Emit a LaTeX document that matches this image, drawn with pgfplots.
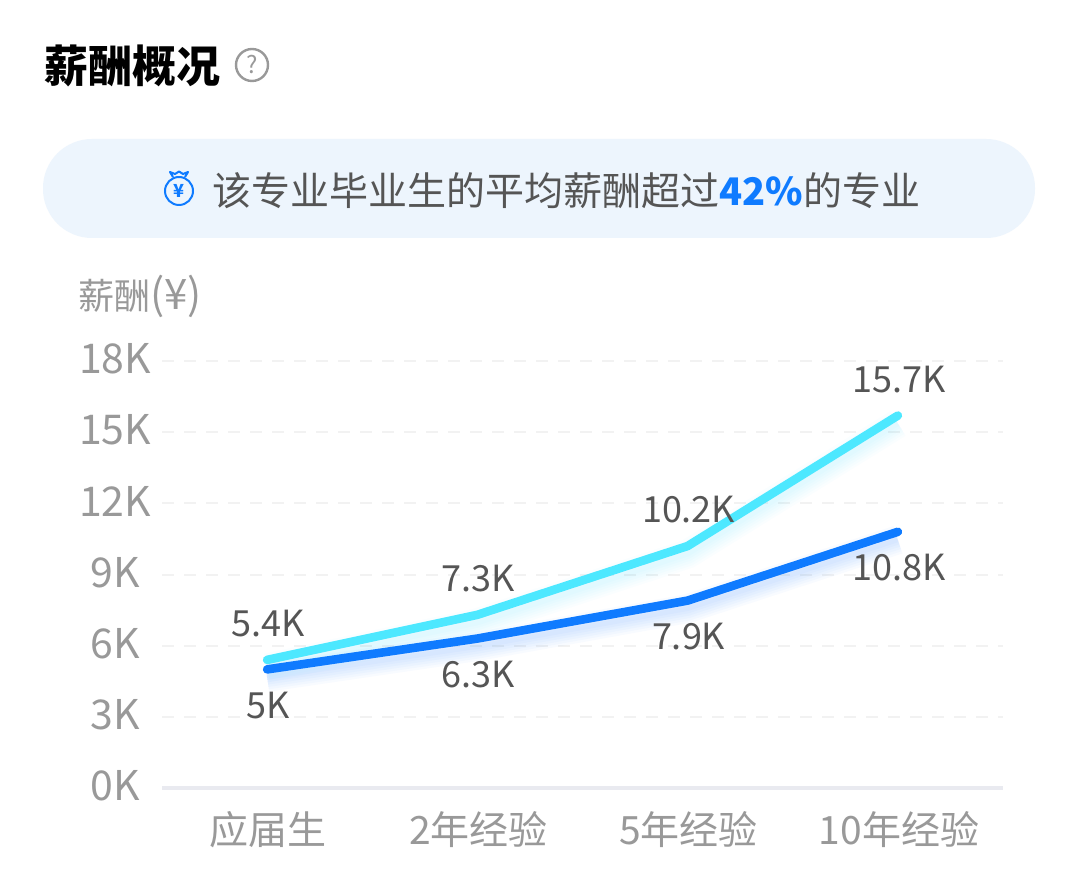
\documentclass[border=0pt]{standalone}
\usepackage{fontspec}
\setmainfont{Noto Sans CJK SC}
\usepackage{pgfplots}
\usepackage{pgfplotstable}
\pgfplotsset{compat=1.18}

\definecolor{cyanline}{HTML}{4DE8FF}
\definecolor{blueline}{HTML}{0F7BFF}
\definecolor{banner}{HTML}{EDF5FD}
\definecolor{ticktext}{HTML}{999999}
\definecolor{datatext}{HTML}{555555}
\definecolor{gridgray}{HTML}{F2F2F2}
\definecolor{baseline}{HTML}{E9EAF0}

% salary in thousands
\pgfplotstableread{
x y label
0 5.4 5.4K
1 7.3 7.3K
2 10.2 10.2K
3 15.7 15.7K
}\avgtable
\pgfplotstableread{
x y label
0 5.0 5K
1 6.3 6.3K
2 7.9 7.9K
3 10.8 10.8K
}\majortable

% soft shadow under a line
\newcommand{\glow}[2]{%
  \pgfplotsinvokeforeach{1,2,3,4,5,6}{%
    \addplot[#2, opacity=0.028, line width=##1*2.4pt, yshift=-4pt, forget plot] table[x=x,y=y] {#1};
  }%
}
\newcommand{\fs}[1]{\fontsize{#1}{#1}\selectfont}

\begin{document}
\begin{tikzpicture}[x=0.5pt,y=-0.5pt]
  \path[fill=white] (0,0) rectangle (1079,886);

  % header
  \node[anchor=west, inner sep=0pt, text=black] at (44,66) {\fs{22}\bfseries 薪酬概况};
  \draw[color=ticktext, line width=1.2pt] (252,65) circle (16);
  \node[inner sep=0pt, text=ticktext] at (252,65) {\fs{12}?};

  % banner
  \fill[banner, rounded corners=24.5pt] (43,139) rectangle (1035,238);
  \draw[blueline, line width=1pt] (179,191) circle (14);
  \draw[blueline, line width=1pt, line join=round] (173,177) -- (170,172) -- (175,174) -- (179,171.5) -- (183,174) -- (188,172) -- (185,177);
  \node[inner sep=0pt, text=blueline] at (179,191) {\fs{9}\bfseries ¥};
  \node[anchor=west, inner sep=0pt, text=datatext] at (212,191)
    {\fs{19.5}该专业毕业生的平均薪酬超过\textcolor{blueline}{\fs{19}\bfseries 42\%}的专业};

  % axis title
  \node[anchor=west, inner sep=0pt, text=ticktext] at (78,296) {\fs{18}薪酬\fs{21}(¥)};

  \begin{axis}[
      at={(81pt,-394pt)}, anchor=south west,
      scale only axis,
      width=420.5pt, height=213.5pt,
      xmin=-0.5, xmax=3.5,
      ymin=0, ymax=18,
      clip=false,
      axis x line*=bottom,
      axis y line*=left,
      x axis line style={draw=baseline, line width=2pt, -},
      y axis line style={draw=none},
      major tick length=0pt,
      xtick={0,1,2,3},
      xticklabels={应届生,2年经验,5年经验,10年经验},
      ytick={0,3,6,9,12,15,18},
      yticklabels={0K,3K,6K,9K,12K,15K,18K},
      x tick label style={anchor=center, xshift=0.5pt, yshift=-21pt, text=ticktext, font=\fs{19.5}},
      y tick label style={anchor=center, xshift=-23.5pt, yshift=1pt, text=ticktext, font=\fs{20.5}},
      ymajorgrids,
      grid style={draw=gridgray, line width=1pt, dash pattern=on 6pt off 5pt},
    ]
    \glow{\majortable}{blueline}
    \glow{\avgtable}{cyanline}

    \addplot[cyanline, line width=4.3pt, line cap=round, line join=round,
        point meta=explicit symbolic, nodes near coords,
        every node near coord/.style={anchor=center, text=datatext, font=\fs{18}, xshift=0.5pt, yshift=18pt}]
      table[x=x, y=y, meta=label] {\avgtable};
    \addplot[blueline, line width=4.3pt, line cap=round, line join=round,
        point meta=explicit symbolic, nodes near coords,
        every node near coord/.style={anchor=center, text=datatext, font=\fs{18}, xshift=0.5pt, yshift=-18pt}]
      table[x=x, y=y, meta=label] {\majortable};
  \end{axis}
\end{tikzpicture}
\end{document}
